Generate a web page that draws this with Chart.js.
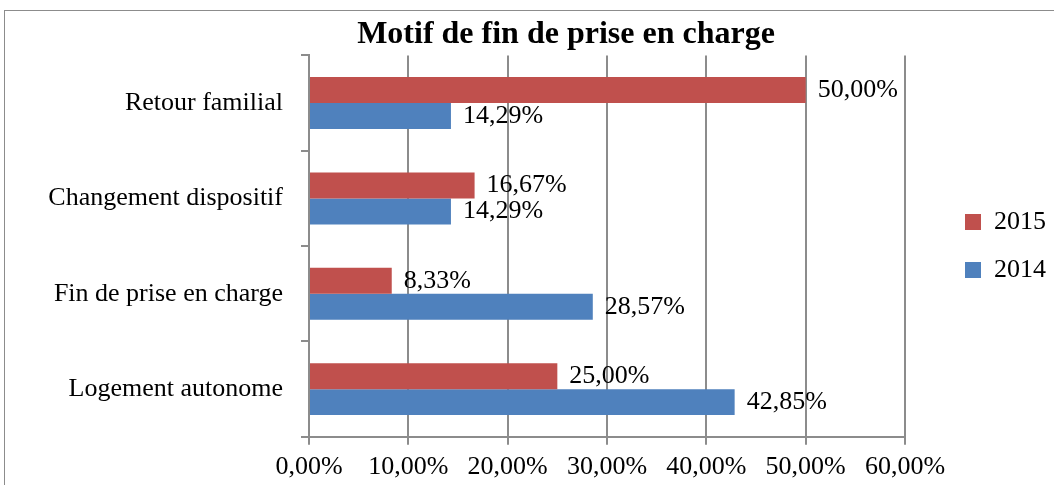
<!DOCTYPE html>
<html>
<head>
<meta charset="utf-8">
<script src="https://cdn.jsdelivr.net/npm/chart.js@4/dist/chart.umd.min.js"></script>
<style>
  html, body { margin: 0; padding: 0; background: #fff; }
  #wrap { width: 1054px; height: 485px; }
</style>
</head>
<body>
<div id="wrap"><canvas id="c"></canvas></div>
<script>
// data
const categories = ['Retour familial', 'Changement dispositif', 'Fin de prise en charge', 'Logement autonome'];
const values2015 = [50.00, 16.67, 8.33, 25.00];
const values2014 = [14.29, 14.29, 28.57, 42.85];
const xTicks = [0, 10, 20, 30, 40, 50, 60];

const FONT = "'Liberation Serif', 'Times New Roman', serif";
const GRID = '#8c8c8c';
const pct = v => v.toFixed(2).replace('.', ',') + '%';

// outer frame around the chart
const framePlugin = {
  id: 'frame',
  beforeDraw(chart) {
    const ctx = chart.ctx;
    ctx.save();
    ctx.strokeStyle = '#8c8c8c';
    ctx.lineWidth = 1;
    ctx.strokeRect(4.5, 10.5, 1100, 500);
    ctx.restore();
  }
};

// value labels at the end of each bar
const valueLabels = {
  id: 'valueLabels',
  afterDatasetsDraw(chart) {
    const ctx = chart.ctx;
    ctx.save();
    ctx.font = '26px ' + FONT;
    ctx.fillStyle = '#000';
    ctx.textBaseline = 'middle';
    ctx.textAlign = 'left';
    chart.data.datasets.forEach((ds, i) => {
      chart.getDatasetMeta(i).data.forEach((bar, j) => {
        ctx.fillText(pct(ds.data[j]), bar.x + 12, bar.y);
      });
    });
    ctx.restore();
  }
};

// nudge title and legend to where the original has them
const boxShift = {
  id: 'boxShift',
  afterLayout(chart) {
    const lg = chart.legend, tb = chart.titleBlock;
    if (lg) { lg.left += 38; lg.right += 38; }
    if (tb) { tb.left += 57; tb.right += 57; }
  }
};

new Chart(document.getElementById('c'), {
  type: 'bar',
  data: {
    labels: categories,
    datasets: [
      { label: '2015', data: values2015, backgroundColor: '#C0504D' },
      { label: '2014', data: values2014, backgroundColor: '#4F81BD' }
    ]
  },
  options: {
    indexAxis: 'y',
    responsive: true, maintainAspectRatio: false, animation: false,
    layout: { padding: { left: 0, right: 36, top: 0, bottom: -5 } },
    datasets: { bar: { barPercentage: 1, categoryPercentage: 0.545 } },
    plugins: {
      title: {
        display: true, text: 'Motif de fin de prise en charge', color: '#000',
        font: { family: FONT, size: 32, weight: 'bold' },
        padding: { top: 16, bottom: 1 }
      },
      legend: {
        position: 'right', fullSize: false,
        labels: { color: '#000', boxWidth: 16, boxHeight: 16, padding: 22, font: { family: FONT, size: 26 } }
      },
      tooltip: { enabled: false }
    },
    scales: {
      x: {
        min: 0, max: 60,
        afterBuildTicks: s => { s.ticks = xTicks.map(v => ({ value: v })); },
        grid: { color: GRID, lineWidth: 2, tickLength: 8 },
        border: { color: GRID, width: 2 },
        ticks: { color: '#000', padding: 7, font: { family: FONT, size: 26 }, callback: v => pct(v) }
      },
      y: {
        afterFit: s => { s.width = 309; },
        grid: { offset: true, drawOnChartArea: false, color: GRID, lineWidth: 2, tickLength: 8 },
        border: { color: GRID, width: 2 },
        ticks: { color: '#000', padding: 18, font: { family: FONT, size: 26 } }
      }
    }
  },
  plugins: [framePlugin, valueLabels, boxShift]
});
</script>
</body>
</html>
